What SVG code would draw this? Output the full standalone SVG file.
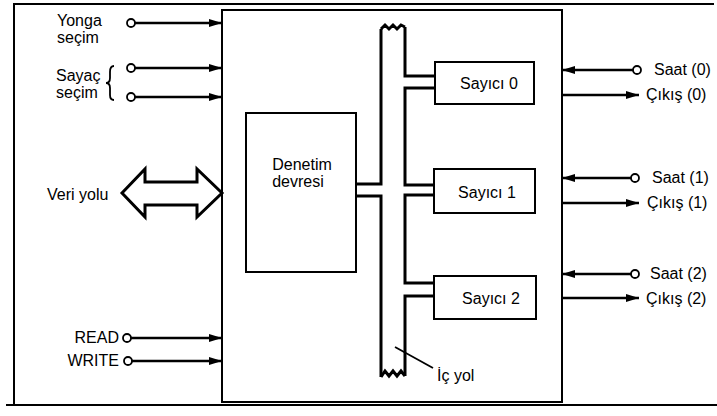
<svg xmlns="http://www.w3.org/2000/svg" width="717" height="416" viewBox="0 0 717 416">
<defs>
<style>
text{font-family:"Liberation Sans",Arial,sans-serif;font-size:16px;fill:#000}
.box{fill:#fff;stroke:#000;stroke-width:2}
.sig{stroke:#000;stroke-width:2.5;fill:none}
.bus{stroke:#000;stroke-width:3;fill:none;stroke-linejoin:miter}
.pin{fill:#fff;stroke:#000;stroke-width:1.8}
.frame{stroke:#000;stroke-width:2;fill:none}
</style>
<marker id="ah" viewBox="0 0 13 8" refX="13" refY="4" markerWidth="13" markerHeight="8" markerUnits="userSpaceOnUse" orient="auto">
<path d="M0,0 L13,4 L0,8 Z" fill="#000"/>
</marker>
</defs>
<rect width="717" height="416" fill="#fff"/>
<g id="frame">
<path class="frame" d="M14,406 V4 H714"/>
<path class="frame" d="M6,405 H717"/>
</g>
<g id="chip"><rect class="box" x="222" y="10" width="340" height="392"/></g>
<g id="denetim">
<rect class="box" x="246" y="113" width="110" height="159"/>
<text x="302" y="170" text-anchor="middle">Denetim</text>
<text x="298" y="187" text-anchor="middle">devresi</text>
</g>
<g id="sayici0">
<rect class="box" x="435" y="62" width="99" height="42"/>
<text x="489" y="89" text-anchor="middle">Sayıcı 0</text>
</g>
<g id="sayici1">
<rect class="box" x="434" y="169" width="101" height="44"/>
<text x="487" y="198" text-anchor="middle">Sayıcı 1</text>
</g>
<g id="sayici2">
<rect class="box" x="434" y="276" width="102" height="43"/>
<text x="491" y="304" text-anchor="middle">Sayıcı 2</text>
</g>
<g id="icyol">
<path class="bus" d="M381,29 V184 H356 M356,196 H381 V377"/>
<path class="bus" d="M405,27 V76 H435 M435,88 H405 V185 H434 M434,195 H405 V283 H434 M434,296 H405 V376"/>
<path class="bus" d="M381,29 L385,25 L389,29 L393,25 L397,29 L401,25 L405,27"/>
<path class="bus" d="M381,377 L385,371 L389,376 L393,371 L397,376 L401,371 L405,376"/>
<line x1="395" y1="347" x2="433" y2="368" stroke="#000" stroke-width="1.8"/>
<text x="437" y="381">İç yol</text>
</g>
<g id="left-labels">
<text x="57" y="26">Yonga</text>
<text x="57" y="43">seçim</text>
<text x="56" y="81">Sayaç</text>
<text x="56" y="98">seçim</text>
<path d="M114,66 Q110,66 110,72 L110,78 Q110,83 106,83 Q110,83 110,88 L110,95 Q110,100 114,100" fill="none" stroke="#000" stroke-width="1.8"/>
<text x="47" y="200">Veri yolu</text>
<text x="119" y="343" text-anchor="end">READ</text>
<text x="119" y="366" text-anchor="end">WRITE</text>
</g>
<g id="right-labels">
<text x="654" y="75">Saat (0)</text>
<text x="646" y="100">Çıkış (0)</text>
<text x="652" y="183">Saat (1)</text>
<text x="647" y="208">Çıkış (1)</text>
<text x="650" y="279">Saat (2)</text>
<text x="646" y="304">Çıkış (2)</text>
</g>
<g id="connectors">
<line class="sig" x1="135" y1="23" x2="222" y2="23" marker-end="url(#ah)"/>
<line class="sig" x1="135" y1="68" x2="222" y2="68" marker-end="url(#ah)"/>
<line class="sig" x1="135" y1="97" x2="222" y2="97" marker-end="url(#ah)"/>
<line class="sig" x1="131" y1="338" x2="222" y2="338" marker-end="url(#ah)"/>
<line class="sig" x1="132" y1="361" x2="222" y2="361" marker-end="url(#ah)"/>
<circle class="pin" cx="131" cy="23" r="4"/>
<circle class="pin" cx="131" cy="68" r="4"/>
<circle class="pin" cx="131" cy="97" r="4"/>
<circle class="pin" cx="127" cy="338" r="4"/>
<circle class="pin" cx="128" cy="361" r="4"/>
<polygon points="122,193 145,169 145,182 197,182 197,169 222,193 197,217 197,205 145,205 145,217" fill="#fff" stroke="#000" stroke-width="3" stroke-linejoin="miter"/>
<line class="sig" x1="633" y1="70" x2="562" y2="70" marker-end="url(#ah)"/>
<line class="sig" x1="562" y1="95" x2="639" y2="95" marker-end="url(#ah)"/>
<line class="sig" x1="631" y1="178" x2="562" y2="178" marker-end="url(#ah)"/>
<line class="sig" x1="562" y1="203" x2="639" y2="203" marker-end="url(#ah)"/>
<line class="sig" x1="631" y1="274" x2="562" y2="274" marker-end="url(#ah)"/>
<line class="sig" x1="562" y1="298" x2="639" y2="298" marker-end="url(#ah)"/>
<circle class="pin" cx="637" cy="70" r="4"/>
<circle class="pin" cx="635" cy="178" r="4"/>
<circle class="pin" cx="635" cy="274" r="4"/>
</g>
</svg>
